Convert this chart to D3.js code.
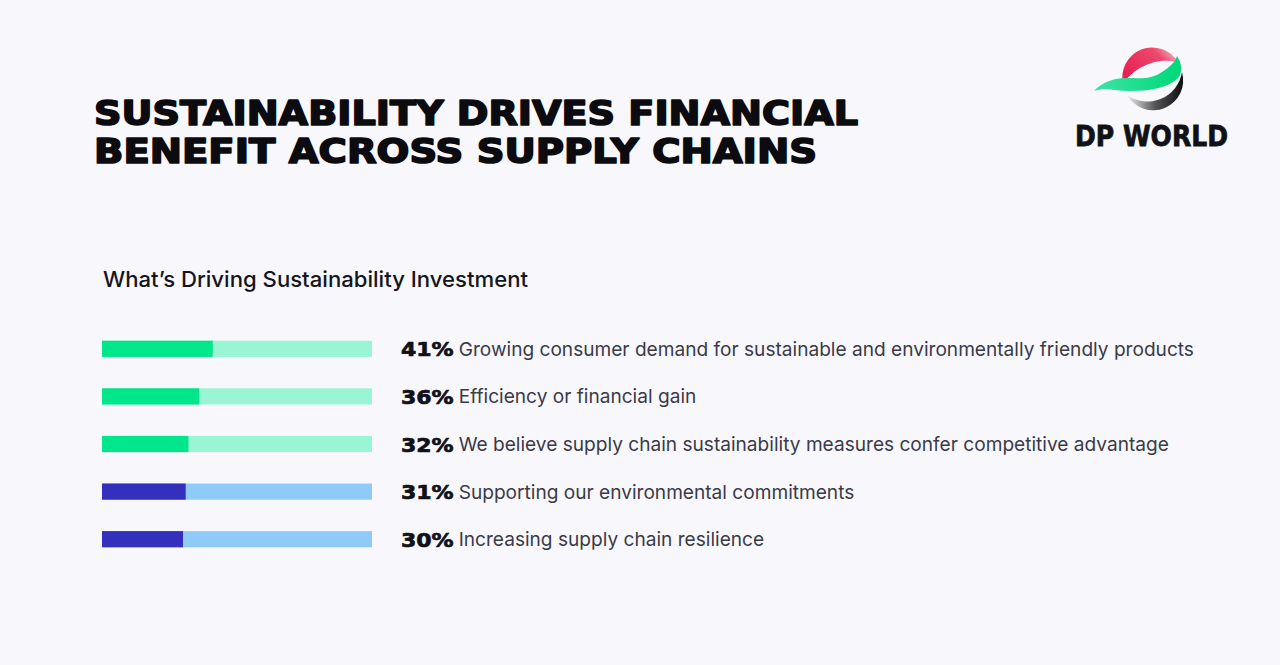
<!DOCTYPE html>
<html>
<head>
<meta charset="utf-8">
<script src="https://cdn.jsdelivr.net/npm/d3@7/dist/d3.min.js"></script>
<style>
  html, body { margin: 0; padding: 0; background: #f8f8fc; }
  svg { display: block; }
</style>
</head>
<body>
<svg id="chart" width="1280" height="665"></svg>
<script>
// ---- data ----
const titleLines = ["SUSTAINABILITY DRIVES FINANCIAL", "BENEFIT ACROSS SUPPLY CHAINS"];
const subtitle = "What\u2019s Driving Sustainability Investment";
const categories = [
  "Growing consumer demand for sustainable and environmentally friendly products",
  "Efficiency or financial gain",
  "We believe supply chain sustainability measures confer competitive advantage",
  "Supporting our environmental commitments",
  "Increasing supply chain resilience"
];
const values = [41, 36, 32, 31, 30];
const groups = ["green", "green", "green", "blue", "blue"];
const brand = "DP WORLD";

// ---- styles ----
const palette = {
  green: { fill: "#00e68a", track: "#99f5d3" },
  blue:  { fill: "#3430bd", track: "#8ecbf8" }
};

const svg = d3.select("#chart");
svg.append("rect").attr("width", 1280).attr("height", 665).attr("fill", "#f8f8fc");

// Title
const titleWidths = [764, 723];
svg.append("g").selectAll("text").data(titleLines).join("text")
  .attr("x", 94)
  .attr("y", (d, i) => 125 + i * 38)
  .attr("font-family", "DejaVu Sans, sans-serif")
  .attr("font-weight", 700)
  .attr("font-size", 33.5)
  .attr("fill", "#0b0b10")
  .attr("stroke", "#0b0b10")
  .attr("stroke-width", 1.7)
  .attr("stroke-linejoin", "round")
  .attr("textLength", (d, i) => titleWidths[i])
  .attr("lengthAdjust", "spacingAndGlyphs")
  .text(d => d);

// Subtitle
svg.append("text")
  .attr("x", 103).attr("y", 287)
  .attr("font-family", "Inter, sans-serif")
  .attr("font-weight", 500)
  .attr("font-size", 21.5)
  .attr("fill", "#15151f")
  .attr("textLength", 425)
  .attr("lengthAdjust", "spacingAndGlyphs")
  .text(subtitle);

// Bars
const x = d3.scaleLinear().domain([0, 100]).range([102, 372]);
const y = d3.scaleBand().domain(d3.range(categories.length)).range([325, 563]).paddingInner(0.66).paddingOuter(0.33);

const rows = svg.append("g").selectAll("g").data(values).join("g");
rows.append("rect")
  .attr("x", x(0)).attr("y", (d, i) => y(i))
  .attr("width", x(100) - x(0)).attr("height", y.bandwidth())
  .attr("fill", (d, i) => palette[groups[i]].track);
rows.append("rect")
  .attr("x", x(0)).attr("y", (d, i) => y(i))
  .attr("width", d => x(d) - x(0)).attr("height", y.bandwidth())
  .attr("fill", (d, i) => palette[groups[i]].fill);

// Labels
const pctScale = 1.1;
const pct = rows.append("text")
  .attr("x", 401)
  .attr("y", (d, i) => y(i) + y.bandwidth() / 2 + 7.5)
  .attr("font-family", "DejaVu Sans, sans-serif")
  .attr("font-weight", 700)
  .attr("font-size", 20)
  .attr("fill", "#111118")
  .attr("stroke", "#111118")
  .attr("stroke-width", 0.7)
  .text(d => d + "%");
const pctW = pct.nodes().map(n => n.getComputedTextLength() * pctScale);
pct.attr("textLength", (d, i) => pctW[i]).attr("lengthAdjust", "spacingAndGlyphs");
rows.append("text")
  .attr("x", (d, i) => 401 + pctW[i] + 5)
  .attr("y", (d, i) => y(i) + y.bandwidth() / 2 + 7)
  .attr("font-family", "Inter, sans-serif")
  .attr("font-size", 19.1)
  .attr("fill", "#3a3a48")
  .text((d, i) => categories[i]);

// Logo
const defs = svg.append("defs");
const grad = defs.append("linearGradient").attr("id", "blk").attr("x1", "0").attr("x2", "1").attr("y1", "0").attr("y2", "0");
grad.append("stop").attr("offset", "0").attr("stop-color", "#f0f0f4");
grad.append("stop").attr("offset", "0.5").attr("stop-color", "#555");
grad.append("stop").attr("offset", "1").attr("stop-color", "#0c0c10");
const gr = defs.append("linearGradient").attr("id", "red").attr("x1", "0").attr("x2", "1").attr("y1", "0.6").attr("y2", "0");
gr.append("stop").attr("offset", "0").attr("stop-color", "#e8204f");
gr.append("stop").attr("offset", "0.65").attr("stop-color", "#ec4a6c");
gr.append("stop").attr("offset", "1").attr("stop-color", "#f9d3dc");
const gg = defs.append("linearGradient").attr("id", "grn").attr("x1", "0").attr("x2", "1");
gg.append("stop").attr("offset", "0").attr("stop-color", "#3ee3a8");
gg.append("stop").attr("offset", "1").attr("stop-color", "#00d878");

const logo = svg.append("g");
logo.append("path")
  .attr("d", "M1123,84 A30,30 0 0 1 1178,62 A52,52 0 0 0 1123,84 Z")
  .attr("fill", "url(#red)");
logo.append("path")
  .attr("d", "M1127,95 A30,30 0 0 0 1182,72 A35,35 0 0 1 1127,95 Z")
  .attr("fill", "url(#blk)");
logo.append("path")
  .attr("d", "M1094,91 C1102,82 1114,78 1126,78 C1140,78 1150,80 1162,72 C1170,67 1175,62 1177,56 C1182,64 1183,72 1178,78 C1168,88 1150,91 1130,91 C1115,91 1105,87 1094,91 Z")
  .attr("fill", "url(#grn)");
svg.append("text")
  .attr("x", 1075).attr("y", 146)
  .attr("font-family", "DejaVu Sans, sans-serif")
  .attr("font-weight", 700)
  .attr("font-size", 28)
  .attr("fill", "#111118")
  .attr("stroke", "#111118")
  .attr("stroke-width", 0.8)
  .attr("textLength", 153)
  .attr("lengthAdjust", "spacingAndGlyphs")
  .text(brand);
</script>
</body>
</html>
